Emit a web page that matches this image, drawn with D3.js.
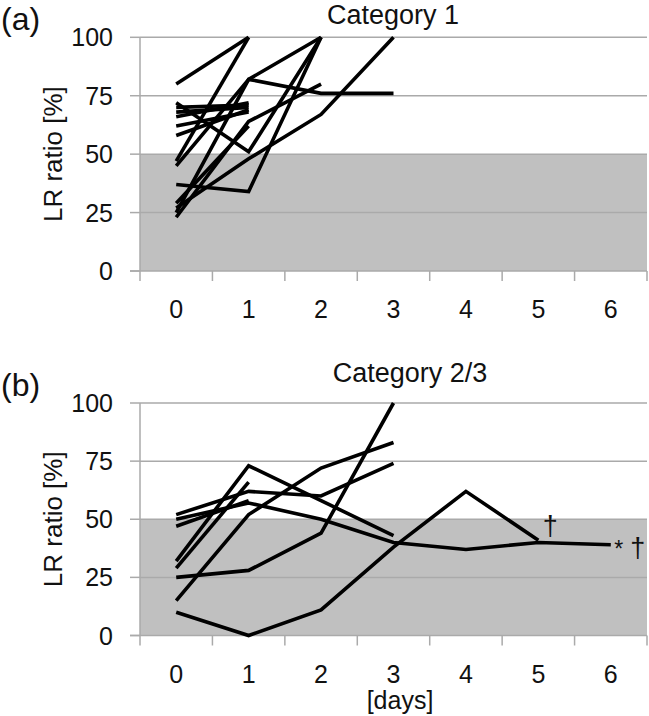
<!DOCTYPE html>
<html>
<head>
<meta charset="UTF-8">
<script src="https://cdnjs.cloudflare.com/ajax/libs/d3/7.8.5/d3.min.js"></script>
<style>
  body { margin: 0; background: #fff; }
  text { font-family: "Liberation Sans", Arial, sans-serif; fill: #111; }
</style>
</head>
<body>
<svg id="chart"></svg>
<script>
// ---------- data ----------
var days = [0, 1, 2, 3, 4, 5, 6];
var yTicks = [0, 25, 50, 75, 100];

// panel (a): Category 1, one array per patient (value per day)
var cat1 = [
    [80, 100],
    [47, 100],
    [45, 82, 76, 76],
    [72, 51, 100],
    [70, 71],
    [68, 70],
    [66, 72],
    [62, 68],
    [58, 69],
    [37, 34, 100],
    [23, 64, 80],
    [27, 48, 67, 100],
    [25, 82, 100],
    [29, 62]
];

// panel (b): Category 2/3
var cat23 = [
    [32, 73, 58, 43],
    [52, 62, 60, 74],
    [29, 66],
    [50, 57, 50, 40, 37, 40, 39],
    [47, 58],
    [10, 0, 11, 38, 62, 41],
    [25, 28, 44, 100],
    [15, 52, 72, 83]
];

// ---------- layout ----------
var width = 649, height = 716;
var svg = d3.select("#chart").attr("width", width).attr("height", height);

var x = d3.scalePoint().domain(days).range([140, 647]).padding(0.5);
var band = x.step();

function panel(data, top, bottom, title, letter, titleX, titleY) {
    var y = d3.scaleLinear().domain([0, 100]).range([bottom, top]);
    var g = svg.append("g");

    // grey area below 50 %
    g.append("rect")
        .attr("x", 140).attr("y", y(50))
        .attr("width", 647 - 140).attr("height", y(0) - y(50))
        .attr("fill", "#c0c0c0");

    // grid lines
    g.selectAll(".grid").data(yTicks.slice(1)).enter().append("line")
        .attr("x1", 140).attr("x2", 647)
        .attr("y1", function (d) { return y(d); })
        .attr("y2", function (d) { return y(d); })
        .attr("stroke", "#aaaaaa").attr("stroke-width", 1.5);

    // y axis
    g.append("line").attr("x1", 140).attr("x2", 140)
        .attr("y1", y(100)).attr("y2", y(0))
        .attr("stroke", "#aaaaaa").attr("stroke-width", 1.5);
    g.selectAll(".ytick").data(yTicks).enter().append("line")
        .attr("x1", 130).attr("x2", 140)
        .attr("y1", function (d) { return y(d); })
        .attr("y2", function (d) { return y(d); })
        .attr("stroke", "#aaaaaa").attr("stroke-width", 1.5);
    g.selectAll(".ylab").data(yTicks).enter().append("text")
        .attr("x", 113).attr("y", function (d) { return y(d); })
        .attr("dy", "0.36em")
        .attr("text-anchor", "end")
        .style("font-size", "25px")
        .text(function (d) { return d; });

    // x axis
    g.append("line").attr("x1", 130).attr("x2", 647)
        .attr("y1", y(0)).attr("y2", y(0))
        .attr("stroke", "#aaaaaa").attr("stroke-width", 1.5);
    var edges = days.map(function (d) { return x(d) - band / 2; }).concat([647]);
    g.selectAll(".xtick").data(edges).enter().append("line")
        .attr("x1", function (d) { return d; }).attr("x2", function (d) { return d; })
        .attr("y1", y(0)).attr("y2", y(0) + 10)
        .attr("stroke", "#aaaaaa").attr("stroke-width", 1.5);
    g.selectAll(".xlab").data(days).enter().append("text")
        .attr("x", function (d) { return x(d); })
        .attr("y", y(0) + 47)
        .attr("text-anchor", "middle")
        .style("font-size", "25px")
        .text(function (d) { return d; });

    // axis title
    g.append("text")
        .attr("transform", "translate(62," + ((y(0) + y(100)) / 2) + ") rotate(-90)")
        .attr("text-anchor", "middle")
        .style("font-size", "26px")
        .text("LR ratio [%]");

    // panel title and letter
    g.append("text").attr("x", titleX).attr("y", titleY)
        .attr("text-anchor", "middle").style("font-size", "27px").text(title);
    g.append("text").attr("x", 1).attr("y", top - 7)
        .style("font-size", "32px").text(letter);

    // patient lines
    var line = d3.line()
        .x(function (d, i) { return x(days[i]); })
        .y(function (d) { return y(d); });
    g.selectAll(".patient").data(data).enter().append("path")
        .attr("d", line)
        .attr("fill", "none")
        .attr("stroke", "#000")
        .attr("stroke-width", 3.6)
        .attr("stroke-linejoin", "miter");

    return y;
}

panel(cat1, 37.3, 271, "Category 1", "(a)", 393, 24);
var yb = panel(cat23, 403, 635.5, "Category 2/3", "(b)", 410, 382);

// markers in panel (b)
svg.append("text").attr("x", x(5) + 12).attr("y", yb(40) - 8)
    .attr("text-anchor", "middle").style("font-size", "27px").text("\u2020");
svg.append("text").attr("x", x(6) + 8).attr("y", yb(40) + 14)
    .attr("text-anchor", "middle").style("font-size", "23px").text("*");
svg.append("text").attr("x", x(6) + 27).attr("y", yb(40) + 14)
    .attr("text-anchor", "middle").style("font-size", "27px").text("\u2020");

svg.append("text").attr("x", 400).attr("y", 709)
    .attr("text-anchor", "middle").style("font-size", "25px").text("[days]");
</script>
</body>
</html>
